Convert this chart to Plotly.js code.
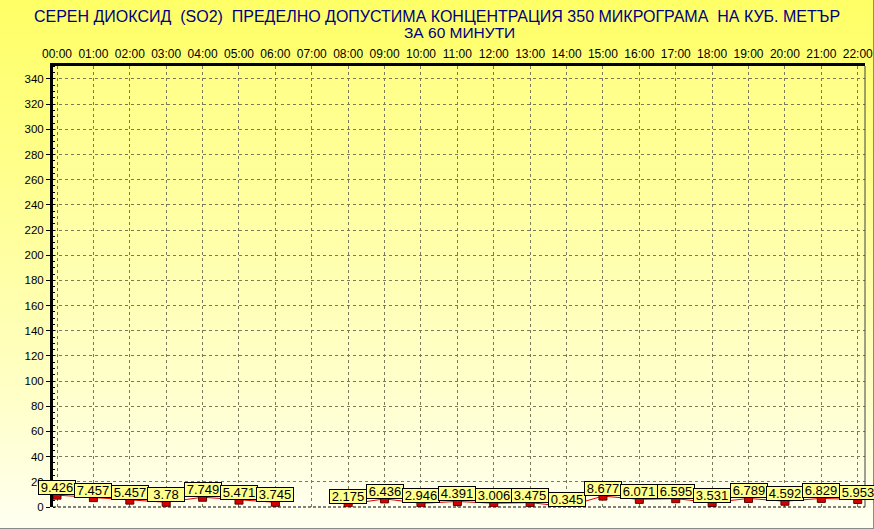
<!DOCTYPE html>
<html>
<head>
<meta charset="utf-8">
<script src="https://cdn.plot.ly/plotly-3.0.1.min.js"></script>
<style>
  html, body { margin: 0; padding: 0; background: #ffffff; }
  #chart {
    width: 874px; height: 529px;
    background: linear-gradient(to bottom, #ffff66 0%, #ffff90 35%, #ffffc8 75%, #fffff2 100%);
    box-shadow: inset -1px -1px 0 #8a8a8a;
  }
</style>
</head>
<body>
<div id="chart"></div>
<script>
const hours = ["00:00","01:00","02:00","03:00","04:00","05:00","06:00","07:00","08:00","09:00","10:00","11:00",
               "12:00","13:00","14:00","15:00","16:00","17:00","18:00","19:00","20:00","21:00","22:00"];
const so2 = [9.426, 7.457, 5.457, 3.78, 7.749, 5.471, 3.745, null, 2.175, 6.436, 2.946, 4.391,
             3.006, 3.475, 0.345, 8.677, 6.071, 6.595, 3.531, 6.789, 4.592, 6.829, 5.953];
const yTicks = [0,20,40,60,80,100,120,140,160,180,200,220,240,260,280,300,320,340];
const titleLine1 = "СЕРЕН ДИОКСИД\u00a0\u00a0(SO2)\u00a0\u00a0ПРЕДЕЛНО ДОПУСТИМА КОНЦЕНТРАЦИЯ 350 МИКРОГРАМА\u00a0\u00a0НА КУБ. МЕТЪР";
const titleLine2 = "ЗА 60 МИНУТИ";

const xIdx = hours.map((h, i) => i);
const FONT = 'Liberation Sans, Arial, sans-serif';

const traces = [
  {
    x: xIdx, y: so2, type: 'scatter', mode: 'lines',
    line: { color: '#e00000', width: 1 },
    connectgaps: false, hoverinfo: 'skip', showlegend: false
  },
  {
    x: xIdx, y: so2, type: 'scatter', mode: 'markers',
    marker: { symbol: 'square', size: 8, color: '#d40000', line: { color: '#600000', width: 1 } },
    showlegend: false
  }
];

const annotations = [];
so2.forEach((v, i) => {
  if (v === null) return;
  annotations.push({
    x: xIdx[i], y: v, xref: 'x', yref: 'y',
    text: String(v), showarrow: false,
    xanchor: 'center', yanchor: 'bottom', yshift: 0,
    font: { family: FONT, size: 13, color: '#000000' },
    bgcolor: '#ffff8c', bordercolor: '#000000', borderwidth: 1, borderpad: 0,
    width: 36, height: 13
  });
});
annotations.push({
  text: titleLine2, xref: 'paper', yref: 'paper', x: 0.5, y: 1 + 33 / 441,
  xanchor: 'center', yanchor: 'middle', showarrow: false,
  font: { family: FONT, size: 15.5, color: '#000080' }
});

const layout = {
  width: 874, height: 529,
  margin: { l: 53, r: 9, t: 66, b: 22 },
  paper_bgcolor: 'rgba(0,0,0,0)',
  plot_bgcolor: 'rgba(255,255,255,0.12)',
  title: {
    text: titleLine1,
    font: { family: FONT, size: 16, color: '#000080' },
    x: 0.5, xanchor: 'center', yref: 'container', y: 1 - 16 / 529, yanchor: 'middle'
  },
  xaxis: {
    side: 'top',
    range: [-0.11, 22.2],
    tickmode: 'array', tickvals: xIdx, ticktext: hours,
    tickfont: { family: FONT, size: 12, color: '#000000' },
    ticks: '', ticklen: 0,
    showline: true, linecolor: '#000000', linewidth: 3,
    showgrid: true, gridcolor: '#7a7a5a', griddash: '3px,3px', gridwidth: 1,
    zeroline: false, fixedrange: true
  },
  yaxis: {
    range: [0, 350.3],
    tickmode: 'array', tickvals: yTicks, ticktext: yTicks.map(String),
    tickfont: { family: FONT, size: 11.5, color: '#000000' },
    ticks: 'outside', ticklen: 4, tickcolor: '#000000',
    showline: true, linecolor: '#000000', linewidth: 3,
    showgrid: true, gridcolor: '#7a7a5a', griddash: '3px,3px', gridwidth: 1,
    zeroline: false, fixedrange: true,
    minor: { dtick: 5, ticks: 'inside', ticklen: 2, tickcolor: '#000000', showgrid: false }
  },
  shapes: [
    { type: 'line', xref: 'paper', yref: 'paper', x0: 0, x1: 1, y0: 0, y1: 0,
      line: { color: '#000000', width: 1, dash: '3px,2px' } },
    { type: 'line', xref: 'paper', yref: 'paper', x0: 1, x1: 1, y0: 0, y1: 1,
      line: { color: '#404040', width: 1 } }
  ],
  annotations: annotations,
  showlegend: false
};

Plotly.newPlot('chart', traces, layout, { displayModeBar: false, staticPlot: true });
</script>
</body>
</html>
